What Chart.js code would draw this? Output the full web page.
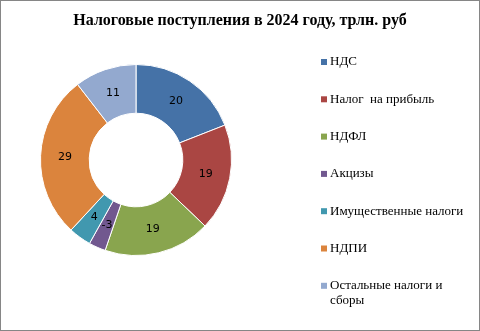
<!DOCTYPE html>
<html>
<head>
<meta charset="utf-8">
<script src="https://cdn.jsdelivr.net/npm/chart.js@4/dist/chart.umd.min.js"></script>
<style>
    html, body { margin: 0; padding: 0; background: #fff; }
    #wrap { width: 480px; height: 331px; position: relative; }
</style>
</head>
<body>
<div id="wrap"><canvas id="myChartPie" width="480" height="331"></canvas></div>
<script>
/*** Datos ***/
const tituloGrafico = 'Налоговые поступления в 2024 году, трлн. руб';
const categorias = ['НДС', 'Налог  на прибыль', 'НДФЛ', 'Акцизы', 'Имущественные налоги', 'НДПИ', 'Остальные налоги и сборы'];
const valores = [20, 19, 19, -3, 4, 29, 11];
const colores = [
    '#4572A7', // azul
    '#AA4643', // rojo
    '#89A54E', // verde
    '#71588F', // morado
    '#4198AF', // turquesa
    '#DB843D', // naranja
    '#93A9CF'  // celeste
];

/*** Plugin: marco, titulo, etiquetas y leyenda ***/
const extras = {
    id: 'extras',
    afterDraw(chart) {
        const ctx = chart.ctx;
        ctx.save();
        // marco
        ctx.strokeStyle = '#868686';
        ctx.lineWidth = 1;
        ctx.strokeRect(0.5, 0.5, chart.width - 1, chart.height - 1);
        // titulo
        ctx.fillStyle = '#000';
        ctx.font = 'bold 16px "Liberation Serif"';
        ctx.textAlign = 'center';
        ctx.textBaseline = 'middle';
        ctx.fillText(tituloGrafico, 240, 21);
        // etiquetas de valores
        ctx.font = '11px "DejaVu Sans"';
        const meta = chart.getDatasetMeta(0);
        meta.data.forEach(function (arc, i) {
            const p = arc.tooltipPosition();
            ctx.fillText(String(chart.data.datasets[0].data[i]), p.x, p.y);
        });
        // leyenda
        ctx.textAlign = 'left';
        ctx.font = '13px "Liberation Serif"';
        let y = 62;
        chart.data.labels.forEach(function (lbl, i) {
            ctx.fillStyle = colores[i];
            ctx.fillRect(321, y - 3, 6, 6);
            ctx.fillStyle = '#000';
            // ajuste de linea simple
            let palabras = lbl.split(' ');
            let linea = '';
            let lineas = [];
            palabras.forEach(function (w) {
                let prueba = linea ? linea + ' ' + w : w;
                if (ctx.measureText(prueba).width > 142 && linea) {
                    lineas.push(linea);
                    linea = w;
                } else {
                    linea = prueba;
                }
            });
            lineas.push(linea);
            lineas.forEach(function (l, k) {
                ctx.fillText(l, 330, y + k * 15);
            });
            y += 37.3;
        });
        ctx.restore();
    }
};

let ctx = document.getElementById('myChartPie').getContext('2d');
new Chart(ctx, {
    type: 'doughnut',
    data: {
        labels: categorias,
        datasets: [{
            data: valores,
            backgroundColor: colores,
            borderColor: '#ffffff',
            borderWidth: 1
        }]
    },
    options: {
        responsive: false,
        animation: false,
        cutout: '49%',
        layout: { padding: { left: 40, right: 248, top: 64, bottom: 75 } },
        plugins: {
            legend: { display: false },
            title: { display: false },
            tooltip: { enabled: false }
        }
    },
    plugins: [extras]
});
</script>
</body>
</html>
